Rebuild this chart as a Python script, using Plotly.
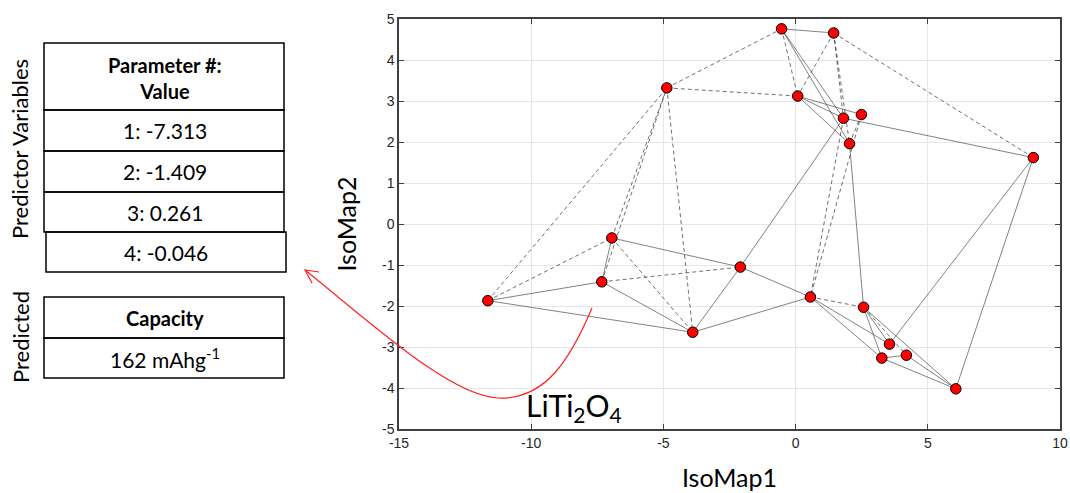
import plotly.graph_objects as go

# ---- data ----
node_x = [-11.64, -7.33, -6.95, -4.87, -3.89, -2.09, -0.53, 1.44, 0.08, 1.81,
          2.49, 2.04, 8.99, 0.56, 2.57, 3.55, 3.26, 4.19, 6.06]
node_y = [-1.87, -1.41, -0.34, 3.32, -2.64, -1.05, 4.76, 4.66, 3.12, 2.58,
          2.67, 1.96, 1.62, -1.78, -2.03, -2.93, -3.27, -3.20, -4.02]

# node index pairs
solid_edges = [(0, 1), (0, 4), (1, 2), (1, 4), (2, 5), (4, 5), (4, 13), (5, 13),
               (5, 9), (6, 7), (6, 9), (6, 11), (8, 9), (8, 10), (8, 11), (9, 12),
               (11, 14), (13, 15), (13, 16), (14, 15), (14, 16), (14, 18), (15, 12),
               (16, 17), (16, 18), (17, 18), (12, 18)]
dashed_edges = [(0, 2), (0, 3), (1, 3), (2, 3), (2, 4), (3, 4), (3, 6), (3, 8),
                (1, 5), (6, 8), (7, 8), (7, 9), (7, 11), (7, 12), (10, 11), (9, 13),
                (10, 13), (13, 14), (14, 17)]

x_ticks = [-15, -10, -5, 0, 5, 10]
x_tick_labels = ["-15", "-10", "-5", "0", "5", "10"]
y_ticks = [-5, -4, -3, -2, -1, 0, 1, 2, 3, 4, 5]
y_tick_labels = ["-5", "-4", "-3", "-2", "-1", "0", "1", "2", "3", "4", "5"]

param_rows = ["1: -7.313", "2: -1.409", "3: 0.261", "4: -0.046"]
header_text = "<b>Parameter #:</b><br><b>Value</b>"
pred_header = "<b>Capacity</b>"
pred_value = "162 mAhg<sup>-1</sup>"
compound = "LiTi<sub>2</sub>O<sub>4</sub>"


def edge_coords(edges):
    xs, ys = [], []
    for a, b in edges:
        xs += [node_x[a], node_x[b], None]
        ys += [node_y[a], node_y[b], None]
    return xs, ys


fig = go.Figure()
sx, sy = edge_coords(solid_edges)
dx, dy = edge_coords(dashed_edges)
fig.add_trace(go.Scatter(x=sx, y=sy, mode="lines",
                         line=dict(color="rgba(60,60,60,0.8)", width=0.8),
                         hoverinfo="skip", showlegend=False))
fig.add_trace(go.Scatter(x=dx, y=dy, mode="lines",
                         line=dict(color="rgba(30,30,30,0.8)", width=0.8, dash="4px,3px"),
                         hoverinfo="skip", showlegend=False))
fig.add_trace(go.Scatter(x=node_x, y=node_y, mode="markers",
                         marker=dict(color="#ff0000", size=10.5,
                                     line=dict(color="black", width=1)),
                         showlegend=False))

W, H = 1070, 493
L, R, T, B = 399, 10, 19, 64
PW, PH = W - L - R, H - T - B


def px(v):
    return (v - L) / PW


def py(v):
    return (H - B - v) / PH


shapes = []


def rect(x0, y0, x1, y1):
    shapes.append(dict(type="rect", xref="paper", yref="paper",
                       x0=px(x0), x1=px(x1), y0=py(y1), y1=py(y0),
                       line=dict(color="black", width=1.5)))


rect(44, 43, 284, 110)
rect(44, 110, 284, 151)
rect(44, 151, 284, 192)
rect(44, 192, 284, 232)
rect(46, 232, 286, 272)
rect(44, 297, 284, 338)
rect(44, 338, 284, 378)

# red curved arrow
pts = [(592, 308), (570, 360), (545, 400), (498, 398),
       (450, 396), (370, 322), (305, 270)]
path = "M {},{} C {},{} {},{} {},{} C {},{} {},{} {},{}".format(
    *[v for p in pts for v in (px(p[0]), py(p[1]))])
shapes.append(dict(type="path", xref="paper", yref="paper", path=path,
                   line=dict(color="#ff2020", width=1.2)))
head = [(319, 272), (305, 270), (312, 283)]
hpath = "M {},{} L {},{} L {},{}".format(*[v for p in head for v in (px(p[0]), py(p[1]))])
shapes.append(dict(type="path", xref="paper", yref="paper", path=hpath,
                   line=dict(color="#ff2020", width=1.2)))

FONT = "Lato"
annotations = []


def text(x, y, s, size, angle=0, color="black"):
    annotations.append(dict(xref="paper", yref="paper", x=px(x), y=py(y), text=s,
                            showarrow=False, xanchor="center", yanchor="middle",
                            textangle=angle, font=dict(family=FONT, size=size, color=color)))


text(165, 78, header_text, 20)
row_y = [130, 171, 212, 252]
for r, yy in zip(param_rows, row_y):
    text(165 if r[0] != "4" else 166, yy, r, 21)
text(165, 318, pred_header, 20)
text(165, 358, pred_value, 21)
text(20, 149, "Predictor Variables", 22, angle=-90)
text(20, 337, "Predicted", 22, angle=-90)
text(574, 407, compound, 30)

axis_common = dict(ticks="inside", ticklen=5, tickcolor="#404040", showline=True,
                   linecolor="#404040", linewidth=1.5, mirror="ticks", showgrid=True,
                   gridcolor="#e6e6e6", gridwidth=1, zeroline=False, automargin=False,
                   tickfont=dict(family="Liberation Sans", size=14, color="#262626"))

fig.update_layout(
    width=W, height=H,
    margin=dict(l=L, r=R, t=T, b=B),
    paper_bgcolor="white", plot_bgcolor="white",
    shapes=shapes, annotations=annotations,
    xaxis=dict(range=[-15, 10], tickvals=x_ticks, ticktext=x_tick_labels, **axis_common,
               title=dict(text="IsoMap1", font=dict(family=FONT, size=25, color="black"),
                          standoff=20)),
    yaxis=dict(range=[-5, 5], tickvals=y_ticks, ticktext=y_tick_labels, **axis_common,
               title=dict(text="IsoMap2", font=dict(family=FONT, size=25, color="black"),
                          standoff=18)),
)

fig.write_html("out.html", config={"displayModeBar": False},
               post_script="document.body.style.margin='0';document.body.style.overflow='hidden';")
